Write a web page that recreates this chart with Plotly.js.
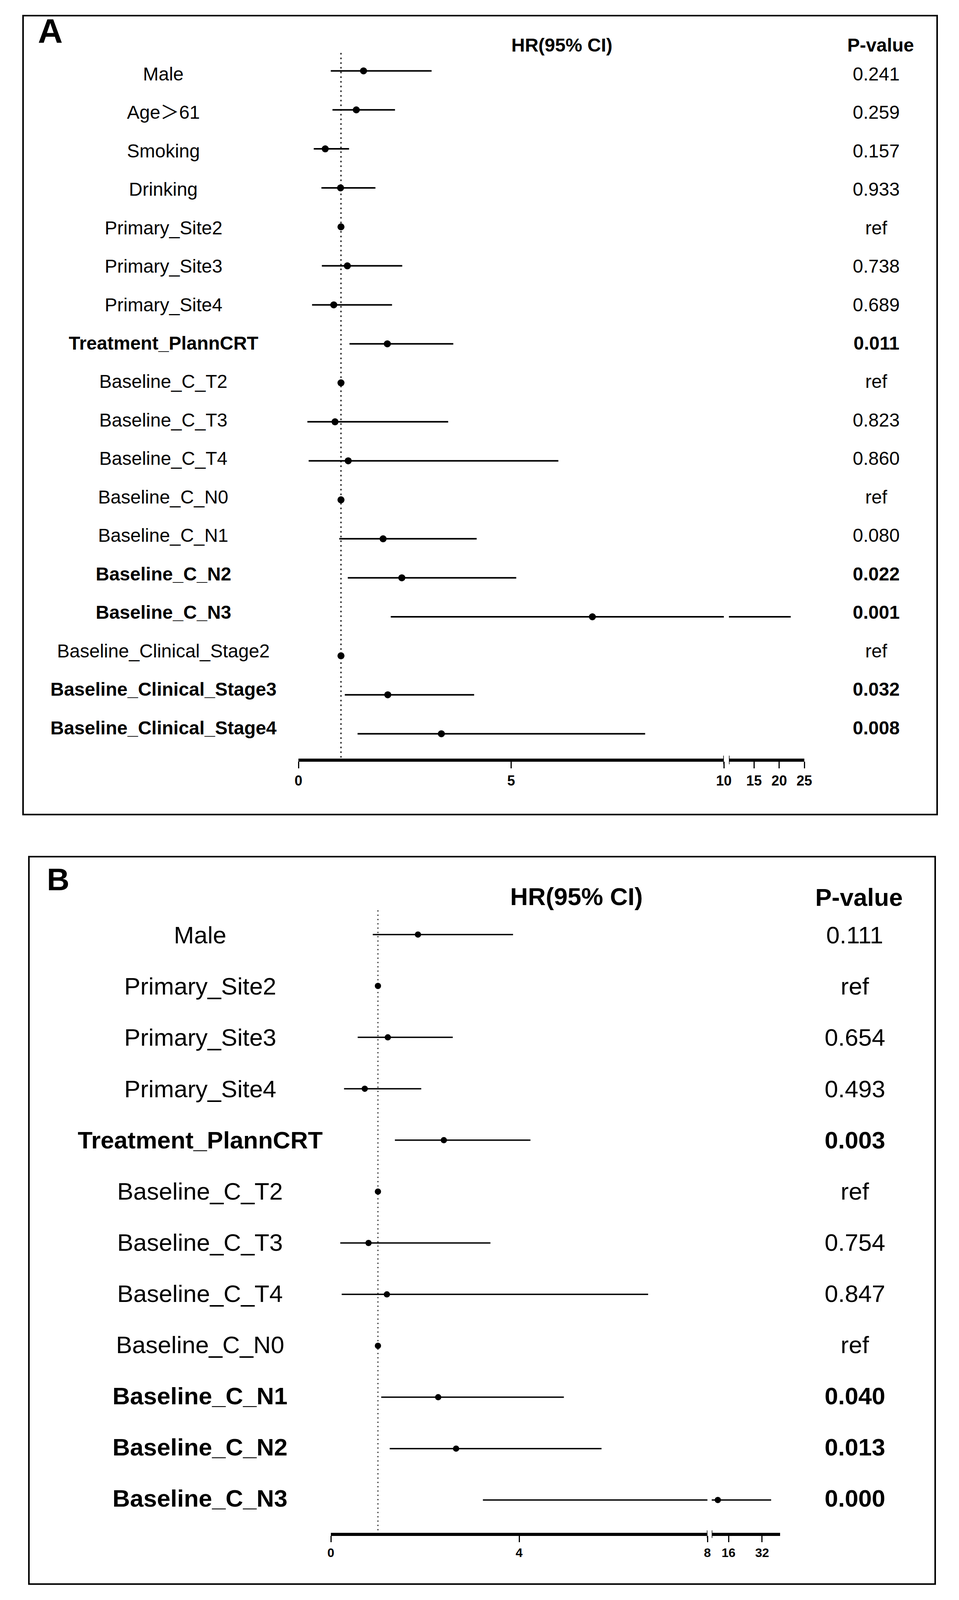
<!DOCTYPE html>
<html>
<head>
<meta charset="utf-8">
<script src="https://cdn.plot.ly/plotly-3.0.1.min.js"></script>
<style>html,body{margin:0;padding:0;background:#fff;overflow:hidden;}</style>
</head>
<body>
<div id="chart"></div>
<script>
// ---------- Panel A data ----------
const A_labels = ["Male","Age\uFF1E61","Smoking","Drinking","Primary_Site2","Primary_Site3","Primary_Site4","Treatment_PlannCRT","Baseline_C_T2","Baseline_C_T3","Baseline_C_T4","Baseline_C_N0","Baseline_C_N1","Baseline_C_N2","Baseline_C_N3","Baseline_Clinical_Stage2","Baseline_Clinical_Stage3","Baseline_Clinical_Stage4"];
const A_hr = [1.53,1.36,0.63,0.99,1.00,1.15,0.83,2.09,1.00,0.86,1.17,1.00,1.99,2.43,6.91,1.00,2.10,3.36];
const A_lo = [0.76,0.80,0.36,0.54,null,0.55,0.32,1.20,null,0.21,0.24,null,0.96,1.16,2.17,null,1.09,1.39];
const A_hi = [3.13,2.27,1.19,1.81,null,2.44,2.20,3.64,null,3.52,6.11,null,4.19,5.12,22.3,null,4.13,8.15];
const A_p = ["0.241","0.259","0.157","0.933","ref","0.738","0.689","0.011","ref","0.823","0.860","ref","0.080","0.022","0.001","ref","0.032","0.008"];
const A_ticks1 = [0,5,10];
const A_ticks2 = [15,20,25];

// ---------- Panel B data ----------
const B_labels = ["Male","Primary_Site2","Primary_Site3","Primary_Site4","Treatment_PlannCRT","Baseline_C_T2","Baseline_C_T3","Baseline_C_T4","Baseline_C_N0","Baseline_C_N1","Baseline_C_N2","Baseline_C_N3"];
const B_hr = [1.85,1.00,1.21,0.72,2.40,1.00,0.80,1.19,1.00,2.28,2.66,10.9];
const B_lo = [0.89,null,0.57,0.28,1.36,null,0.20,0.23,null,1.07,1.25,3.23];
const B_hi = [3.87,null,2.59,1.92,4.24,null,3.39,6.74,null,4.95,5.75,36.3];
const B_p = ["0.111","ref","0.654","0.493","0.003","ref","0.754","0.847","ref","0.040","0.013","0.000"];
const B_ticks1 = [0,4,8];
const B_ticks2 = [16,32];

// The reference is laid out on a 2455 x 5215 canvas; fit it to the real viewport height.
const W = 2455, REF_H = 5215;
const H = Math.min(REF_H, window.innerHeight > 0 ? window.innerHeight : REF_H);
const s = H / REF_H;
document.getElementById('chart').style.width = W + 'px';
document.getElementById('chart').style.height = H + 'px';

const FONT = "Liberation Sans, Arial, Noto Sans CJK SC, sans-serif";
const px = v => v / W;
const py = v => 1 - v / REF_H;

function ciSegments(lo, hi) {
  const xs = [], ys = [];
  lo.forEach((l, i) => {
    if (l === null) return;
    xs.push(l, hi[i], null);
    ys.push(i, i, null);
  });
  return {xs, ys};
}
const isSig = p => p !== "ref" && parseFloat(p) < 0.05;

const traces = [];
function addPanel(lo, hi, hr, xaxes, yaxis, lw, ms) {
  const seg = ciSegments(lo, hi);
  const idx = hr.map((_, i) => i);
  xaxes.forEach(xa => {
    traces.push({x: seg.xs, y: seg.ys, xaxis: xa, yaxis: yaxis, mode: 'lines',
      line: {color: '#000', width: lw}, hoverinfo: 'skip', showlegend: false});
    traces.push({x: hr, y: idx, xaxis: xa, yaxis: yaxis, mode: 'markers',
      marker: {color: '#000', size: ms}, hoverinfo: 'skip', showlegend: false});
  });
}
addPanel(A_lo, A_hi, A_hr, ['x','x2'], 'y', 4, 18);
addPanel(B_lo, B_hi, B_hr, ['x3','x4'], 'y2', 3.5, 16);

// reference lines at HR = 1
traces.push({x: [1,1], y: [-0.46, 17.671], xaxis: 'x', yaxis: 'y', mode: 'lines',
  line: {color: '#000', width: 3, dash: '4px,8px'}, hoverinfo: 'skip', showlegend: false});
traces.push({x: [1,1], y: [-0.47, 11.662], xaxis: 'x3', yaxis: 'y2', mode: 'lines',
  line: {color: '#000', width: 2.5, dash: '3px,8px'}, hoverinfo: 'skip', showlegend: false});
// invisible traces that instantiate the text-row axes
traces.push({x: A_hr, y: A_hr.map((_, i) => i), xaxis: 'x', yaxis: 'y3', mode: 'markers',
  marker: {opacity: 0}, hoverinfo: 'skip', showlegend: false});
traces.push({x: B_hr, y: B_hr.map((_, i) => i), xaxis: 'x3', yaxis: 'y4', mode: 'markers',
  marker: {opacity: 0}, hoverinfo: 'skip', showlegend: false});

const axBase = {showgrid: false, zeroline: false, showline: true, linecolor: '#000',
  ticks: 'outside', tickcolor: '#000', tickwidth: 3, fixedrange: true};
const hidden = {visible: false, showgrid: false, zeroline: false, fixedrange: true};

const annotations = [];
function addText(labels, pv, yref, labelX, pX, size) {
  labels.forEach((lab, i) => {
    const b = isSig(pv[i]);
    annotations.push({xref: 'paper', yref: yref, x: px(labelX), y: i, xanchor: 'center', yanchor: 'middle',
      text: b ? '<b>' + lab + '</b>' : lab, showarrow: false,
      font: {family: FONT, size: size, color: '#000'}});
    annotations.push({xref: 'paper', yref: yref, x: px(pX), y: i, xanchor: 'center', yanchor: 'middle',
      text: b ? '<b>' + pv[i] + '</b>' : pv[i], showarrow: false,
      font: {family: FONT, size: size, color: '#000'}});
  });
}
addText(A_labels, A_p, 'y3', 418, 2243, 48);
addText(B_labels, B_p, 'y4', 512, 2188, 62);

function header(text, x, y, size, xanchor) {
  annotations.push({xref: 'paper', yref: 'paper', x: px(x), y: py(y), xanchor: xanchor || 'center', yanchor: 'middle',
    text: '<b>' + text + '</b>', showarrow: false, font: {family: FONT, size: size, color: '#000'}});
}
header('A', 95, 100, 88, 'left');
header('HR(95% CI)', 1438, 147, 48);
header('P-value', 2254, 147, 48);
header('B', 118, 2866, 80, 'left');
header('HR(95% CI)', 1476, 2922, 63);
header('P-value', 2199, 2924, 63);

const shapes = [
  {type: 'rect', xref: 'paper', yref: 'paper', x0: px(59), x1: px(2399), y0: py(2655), y1: py(51),
   line: {color: '#000', width: 4}},
  {type: 'rect', xref: 'paper', yref: 'paper', x0: px(74), x1: px(2394), y0: py(5163), y1: py(2792),
   line: {color: '#000', width: 4}},
];
[['x',10],['x2',10]].forEach(([xr, v]) => shapes.push({type: 'line', xref: xr, yref: 'paper',
  x0: v, x1: v, y0: py(2491), y1: py(2463), line: {color: '#000', width: 3}}));
[['x3',8],['x4',8]].forEach(([xr, v]) => shapes.push({type: 'line', xref: xr, yref: 'paper',
  x0: v, x1: v, y0: py(5013), y1: py(4988), line: {color: '#000', width: 3}}));

const tickFontA = {family: FONT, size: 36, color: '#000', weight: 'bold'};
const tickFontB = {family: FONT, size: 32, color: '#000', weight: 'bold'};
const lineOff = 4 / REF_H; // half of the 8px axis line

const layout = {
  width: W, height: H,
  margin: {l: 0, r: 0, t: 0, b: 0, pad: 0},
  paper_bgcolor: '#fff', plot_bgcolor: 'rgba(0,0,0,0)',
  showlegend: false, hovermode: false,
  xaxis: Object.assign({}, axBase, {domain: [px(764), px(1853)], range: [0, 10], anchor: 'y',
    tickmode: 'array', tickvals: A_ticks1, ticktext: A_ticks1.map(String), ticklen: Math.round(22 * s), linewidth: 8, tickfont: tickFontA}),
  xaxis2: Object.assign({}, axBase, {domain: [px(1866), px(2059)], range: [10, 25], anchor: 'y',
    tickmode: 'array', tickvals: A_ticks2, ticktext: A_ticks2.map(String), ticklen: Math.round(22 * s), linewidth: 8, tickfont: tickFontA}),
  yaxis: Object.assign({}, hidden, {domain: [py(2477) + lineOff, py(167.45)], range: [17.64, -0.5], anchor: 'x'}),
  yaxis3: Object.assign({}, hidden, {overlaying: 'y', range: [17.806, -0.5868], anchor: 'x'}),
  xaxis3: Object.assign({}, axBase, {domain: [px(847), px(1811)], range: [0, 8], anchor: 'y2',
    tickmode: 'array', tickvals: B_ticks1, ticktext: B_ticks1.map(String), ticklen: Math.round(20 * s), linewidth: 8, tickfont: tickFontB}),
  xaxis4: Object.assign({}, axBase, {domain: [px(1822), px(1997)], range: [8, 40.56], anchor: 'y2',
    tickmode: 'array', tickvals: B_ticks2, ticktext: B_ticks2.map(String), ticklen: Math.round(20 * s), linewidth: 8, tickfont: tickFontB}),
  yaxis2: Object.assign({}, hidden, {domain: [py(5000) + lineOff, py(2962.2)], range: [11.638, -0.5], anchor: 'x3'}),
  yaxis4: Object.assign({}, hidden, {overlaying: 'y2', range: [11.679, -0.5144], anchor: 'x3'}),
  annotations: annotations,
  shapes: shapes
};

Plotly.newPlot('chart', traces, layout, {staticPlot: true, displayModeBar: false});
</script>
</body>
</html>
